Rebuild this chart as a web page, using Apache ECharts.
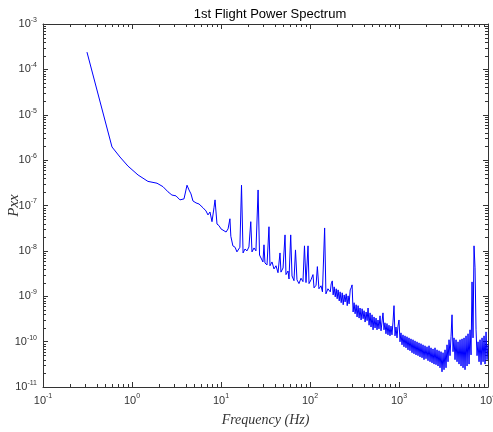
<!DOCTYPE html>
<html>
<head>
<meta charset="utf-8">
<script src="https://cdn.jsdelivr.net/npm/echarts@6/dist/echarts.min.js"></script>
<style>
  html, body { margin: 0; padding: 0; background: #fff; }
  #chart { width: 493px; height: 432px; }
</style>
</head>
<body>
<div id="chart"></div>
<script>
  // frequency (Hz) and power values, left to right
  var freqHz = [
    0.312, 0.596, 0.733, 0.90, 1.17, 1.51, 1.91, 2.23, 2.54, 2.81,
    3.12, 3.46, 3.84, 4.15, 4.37, 4.6, 4.84, 5.24, 5.66, 6.28,
    6.78, 7.14, 7.52, 7.92, 8.34, 8.57, 8.79, 9.02, 9.5, 10,
    10.5, 11.4, 12.0, 12.6, 12.9, 13.6, 14.4, 15.1, 15.9, 16.3,
    17.0, 17.7, 18.6, 19.6, 20.6, 21.6, 22.3, 23.5, 24.7, 26.1,
    27.1, 28.1, 29.6, 30.4, 31.2, 32.9, 34.6, 35.5, 37.4, 39.4,
    41.5, 43.7, 46.0, 47.2, 49.8, 52.4, 53.7, 56.6, 58.1, 60.7,
    62.8, 66.1, 68.7, 71.4, 75.2, 79.2, 83.4, 86.7, 90.2, 95,
    97.5, 102.6, 108, 111, 117, 121, 126, 133, 138, 146,
    151, 159,
    169, 173, 178, 182, 187, 192, 197, 202, 207, 213,
    218, 224, 230, 236, 242, 248, 255, 262, 268, 275,
    283, 290, 297, 305, 313, 321, 330, 338, 347, 356,
    365, 375, 385, 395, 405, 416, 427, 438, 449, 461,
    473, 485, 498, 511, 524, 538, 552, 566, 581, 596,
    612, 628, 644, 661, 678, 696, 714, 733, 752, 772,
    792, 813, 834, 856, 879, 902, 925, 950, 974, 1000,
    1026, 1053, 1081, 1109, 1138, 1168, 1199, 1230, 1262, 1295,
    1329, 1364, 1400, 1437, 1474, 1513, 1553, 1594, 1635, 1678,
    1722, 1767, 1814, 1861, 1910, 1960, 2011, 2064, 2118, 2174,
    2231, 2289, 2349, 2411, 2474, 2539, 2605, 2674, 2744, 2816,
    2890, 2966, 3043, 3123, 3205, 3289, 3375, 3464, 3555, 3648,
    3744, 3842, 3942, 4046, 4152, 4261, 4372, 4487, 4605, 4725,
    4849, 4976, 5107, 5241, 5378, 5519, 5664, 5813, 5965, 6122,
    6282, 6447, 6616, 6789, 6967, 7150, 7338, 7530, 7728, 7930,
    8138, 8352, 8571, 8795, 9026, 9263, 9506, 9755, 10000
  ];
  var pxx = [
    2.4e-4, 1.95e-6, 1.17e-6, 7.4e-7, 4.7e-7, 3.4e-7, 3.1e-7, 2.6e-7, 2.0e-7, 1.7e-7,
    1.63e-7, 1.33e-7, 1.4e-7, 2.8e-7, 2.2e-7, 1.8e-7, 1.26e-7, 1.14e-7, 1.08e-7, 8.9e-8,
    7.6e-8, 6.2e-8, 7.2e-8, 4.4e-8, 8.9e-8, 1.33e-7, 7.2e-8, 3.9e-8, 3.6e-8, 3.05e-8,
    3.3e-8, 2.6e-8, 3.05e-8, 5.1e-8, 2.1e-8, 1.29e-8, 1.2e-8, 9.5e-9, 1.05e-8, 1.2e-8,
    2.8e-7, 9.0e-9, 1.1e-8, 1.0e-8, 1.22e-8, 4.4e-8, 9.5e-9, 1.16e-8, 1.0e-8, 2.2e-7,
    8.1e-9, 7.4e-9, 5.7e-9, 1.36e-8, 5.4e-9, 4.9e-9, 3.4e-8, 4.7e-9, 5.7e-9, 4.0e-9,
    4.7e-9, 3.3e-9, 9.0e-9, 3.4e-9, 4.2e-9, 2.25e-8, 3.0e-9, 3.6e-9, 2.4e-9, 2.25e-8,
    2.8e-9, 2.2e-9, 1.05e-8, 2.3e-9, 1.9e-9, 2.5e-9, 2.1e-9, 1.29e-8, 2.0e-9, 1.29e-8,
    1.9e-9, 2.3e-9, 3.0e-9, 1.53e-9, 1.75e-9, 4.5e-9, 1.46e-9, 1.7e-9, 1.25e-9, 3.2e-8,
    1.13e-9, 1.46e-9,
    1.25e-9, 1.87e-9, 2.18e-9, 1.07e-9, 1.61e-9, 9.7e-10, 1.46e-9, 8.8e-10, 1.38e-9, 7.9e-10,
    1.25e-9, 7.2e-10, 1.19e-9, 6.5e-10, 1.07e-9, 7.5e-10, 1.13e-9, 6.2e-10, 1.02e-9, 6.8e-10,
    1.38e-9, 1.53e-9, 1.78e-9, 4.5e-10, 7.2e-10, 4.1e-10, 6.5e-10, 3.5e-10, 6.2e-10, 3.3e-10,
    5.5e-10, 3.0e-10, 5.3e-10, 3.2e-10, 4.8e-10, 2.7e-10, 4.5e-10, 2.9e-10, 5.5e-10, 2.3e-10,
    4.3e-10, 2.1e-10, 3.9e-10, 1.82e-10, 3.5e-10, 2.0e-10, 3.3e-10, 1.82e-10, 3.0e-10, 1.91e-10,
    3.7e-10, 1.73e-10, 2.7e-10, 4.3e-10, 1.82e-10, 2.6e-10, 1.49e-10, 2.5e-10, 1.41e-10, 2.3e-10,
    1.34e-10, 2.2e-10, 1.41e-10, 2.7e-10, 6.2e-10, 1.34e-10, 2.1e-10, 1.21e-10, 2.2e-10, 3.0e-10,
    9.9e-11, 1.56e-10, 8.5e-11, 1.41e-10, 7.7e-11, 1.34e-10, 7.3e-11, 1.28e-10, 6.6e-11, 1.21e-10,
    6.3e-11, 1.15e-10, 5.7e-11, 1.10e-10, 5.4e-11, 1.04e-10, 5.1e-11, 9.9e-11, 4.9e-11, 9.4e-11,
    4.6e-11, 9.0e-11, 4.4e-11, 8.5e-11, 4.0e-11, 8.1e-11, 4.2e-11, 7.7e-11, 3.8e-11, 8.1e-11,
    3.6e-11, 7.3e-11, 3.4e-11, 6.9e-11, 3.2e-11, 7.3e-11, 3.1e-11, 6.6e-11, 2.9e-11, 6.3e-11,
    2.65e-11, 6.0e-11, 2.16e-11, 5.7e-11, 2.4e-11, 6.6e-11, 2.65e-11, 8.5e-11, 3.6e-11, 1.10e-10,
    4.9e-11, 1.28e-10, 3.9e-10, 6.0e-11, 1.21e-10, 4.0e-11, 1.10e-10, 3.6e-11, 9.9e-11, 3.2e-11,
    1.10e-10, 2.9e-11, 1.15e-10, 2.65e-11, 1.21e-10, 2.4e-11, 1.34e-10, 2.9e-11, 1.49e-10, 3.2e-11,
    1.82e-10, 5.1e-11, 2.07e-9, 1.21e-10, 1.29e-8, 4.23e-9, 1.82e-10, 4.9e-11, 9.9e-11, 3.6e-11,
    1.10e-10, 3.1e-11, 1.21e-10, 3.6e-11, 1.34e-10, 3.2e-11, 1.64e-10, 4.0e-11, 8.5e-11
  ];

  // log-axis ranges and the mantissas that get a short tick inside each decade
  var xRange = [0.1, 10000];
  var yRange = [1e-11, 1e-3];
  var minorSteps = [2, 3, 4, 5, 6, 7, 8, 9];

  var axisColor = '#333';

  function powLabel(value) {
    var e = Math.round(Math.log10(value));
    return '{b|10}{e|' + e + '}';
  }
  var labelRich = {
    b: { fontSize: 11, color: '#333', fontFamily: 'Liberation Sans' },
    e: { fontSize: 7, color: '#333', fontFamily: 'Liberation Sans', padding: [0, 0, 8, 0] }
  };

  function logAxis(pos, range, withLabels) {
    return {
      type: 'log',
      logBase: 10,
      position: pos,
      min: range[0],
      max: range[1],
      interval: 1,
      nameMoveOverlap: false,
      axisLine: { show: true, lineStyle: { color: axisColor, width: 1 } },
      axisTick: { show: true, inside: true, length: 5, lineStyle: { color: axisColor } },
      minorTick: { show: false },
      splitLine: { show: false },
      axisLabel: withLabels ? { show: true, formatter: powLabel, rich: labelRich, margin: 6 } : { show: false }
    };
  }

  function minorValues(range) {
    var out = [];
    var lo = Math.round(Math.log10(range[0]));
    var hi = Math.round(Math.log10(range[1]));
    for (var k = lo; k < hi; k++) {
      minorSteps.forEach(function (m) { out.push(m * Math.pow(10, k)); });
    }
    return out;
  }

  var xMain = logAxis('bottom', xRange, true);
  xMain.name = 'Frequency (Hz)';
  xMain.nameLocation = 'middle';
  xMain.nameGap = 26;
  xMain.nameTextStyle = { fontFamily: 'Liberation Serif', fontStyle: 'italic', fontSize: 14, color: '#333' };

  var yMain = logAxis('left', yRange, true);
  yMain.name = 'Pxx';
  yMain.nameLocation = 'middle';
  yMain.nameGap = 21;
  yMain.nameTextStyle = { fontFamily: 'Liberation Serif', fontStyle: 'italic', fontSize: 15, color: '#333' };

  var tickLen = 3;
  function tickLine(x1, y1, x2, y2) {
    return {
      type: 'line',
      shape: { x1: x1, y1: y1, x2: x2, y2: y2 },
      style: { stroke: axisColor, lineWidth: 1 }
    };
  }

  // short inside ticks at 2..9 x 10^k, bottom and top
  function renderXMinor(params, api) {
    var v = api.value(0);
    var pb = api.coord([v, yRange[0]]);
    var pt = api.coord([v, yRange[1]]);
    var x = Math.round(pb[0]) + 0.5;
    return {
      type: 'group',
      children: [tickLine(x, pb[1], x, pb[1] - tickLen), tickLine(x, pt[1], x, pt[1] + tickLen)]
    };
  }
  // same on the left and right sides
  function renderYMinor(params, api) {
    var v = api.value(1);
    var pl = api.coord([xRange[0], v]);
    var pr = api.coord([xRange[1], v]);
    var y = Math.round(pl[1]) + 0.5;
    return {
      type: 'group',
      children: [tickLine(pl[0], y, pl[0] + tickLen, y), tickLine(pr[0], y, pr[0] - tickLen, y)]
    };
  }

  var option = {
    backgroundColor: '#fff',
    animation: false,
    title: {
      text: '1st Flight Power Spectrum',
      left: 265,
      top: 3,
      textAlign: 'center',
      textStyle: { fontFamily: 'Liberation Sans', fontSize: 13, fontWeight: 'normal', color: '#000' }
    },
    grid: { left: 43, right: 5, top: 24, bottom: 45, containLabel: false, outerBoundsMode: 'none' },
    xAxis: [xMain, logAxis('top', xRange, false)],
    yAxis: [yMain, logAxis('right', yRange, false)],
    series: [
      {
        type: 'line',
        xAxisIndex: 0,
        yAxisIndex: 0,
        showSymbol: false,
        symbol: 'none',
        lineStyle: { color: '#0000ff', width: 1 },
        data: freqHz.map(function (f, i) { return [f, pxx[i]]; })
      },
      {
        type: 'custom',
        silent: true,
        clip: false,
        xAxisIndex: 0,
        yAxisIndex: 0,
        renderItem: renderXMinor,
        data: minorValues(xRange).map(function (v) { return [v, yRange[0]]; })
      },
      {
        type: 'custom',
        silent: true,
        clip: false,
        xAxisIndex: 0,
        yAxisIndex: 0,
        renderItem: renderYMinor,
        data: minorValues(yRange).map(function (v) { return [xRange[0], v]; })
      }
    ]
  };

  var myChart = echarts.init(document.getElementById('chart'));
  myChart.setOption(option);
</script>
</body>
</html>
